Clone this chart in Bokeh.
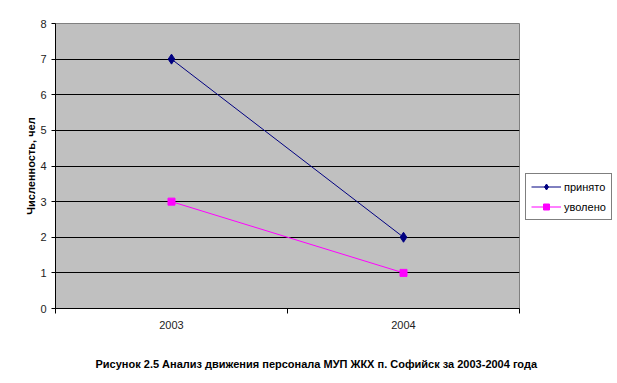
from bokeh.plotting import figure
from bokeh.models import (Range1d, FixedTicker, LinearAxis, Legend, LegendItem,
                          Title, ColumnDataSource)
from bokeh.embed import file_html
from bokeh.resources import INLINE

categories = ["2003", "2004"]
prinyato = [7, 2]
uvoleno = [3, 1]
y_ticks = [0, 1, 2, 3, 4, 5, 6, 7, 8]
y_label = "Численность, чел"
caption = "Рисунок 2.5 Анализ движения персонала МУП ЖКХ п. Софийск за 2003-2004 года"

xs = list(range(1, len(categories) + 1))
n = len(categories)

p = figure(frame_width=464, frame_height=285, output_backend="svg",
           toolbar_location=None,
           x_range=Range1d(0.5, n + 0.5), y_range=Range1d(0, 8),
           min_border_left=55, min_border_right=90, min_border_top=23,
           min_border_bottom=67)
p.background_fill_color = "#C0C0C0"
p.border_fill_color = "white"
p.outline_line_color = "#808080"
p.outline_line_width = 1

# y axis
p.yaxis.ticker = FixedTicker(ticks=y_ticks)
p.yaxis.axis_line_color = "black"
p.yaxis.major_tick_line_color = "black"
p.yaxis.major_tick_out = 4
p.yaxis.major_tick_in = 0
p.yaxis.minor_tick_line_color = None
p.yaxis.major_label_standoff = 5
p.yaxis.major_label_text_font = "Liberation Sans"
p.yaxis.major_label_text_font_size = "11px"
p.yaxis.major_label_text_color = "#222222"
p.yaxis.axis_label = y_label
p.yaxis.axis_label_text_font = "Liberation Sans"
p.yaxis.axis_label_text_font_size = "11px"
p.yaxis.axis_label_text_font_style = "bold"
p.yaxis.axis_label_text_color = "black"
p.yaxis.axis_label_standoff = 0

p.ygrid.ticker = FixedTicker(ticks=y_ticks)
p.ygrid.grid_line_color = "black"
p.ygrid.grid_line_width = 1
p.xgrid.grid_line_color = None

# x axis: ticks between categories
bounds = [i + 0.5 for i in range(0, n + 1)]
p.xaxis.ticker = FixedTicker(ticks=bounds)
p.xaxis.major_label_overrides = {b: "" for b in bounds}
p.xaxis.major_label_text_font_size = "0px"
p.xaxis.major_label_standoff = 0
p.xaxis.axis_line_color = "black"
p.xaxis.major_tick_line_color = "black"
p.xaxis.major_tick_out = 5
p.xaxis.major_tick_in = 0
p.xaxis.minor_tick_line_color = None

lab_axis = LinearAxis(ticker=FixedTicker(ticks=xs),
                      major_label_overrides={x: c for x, c in zip(xs, categories)},
                      axis_line_color=None, major_tick_line_color=None,
                      minor_tick_line_color=None, major_label_standoff=1,
                      major_label_text_font="Liberation Sans",
                      major_label_text_font_size="11px",
                      major_label_text_color="#222222")
p.add_layout(lab_axis, "below")

title = Title(text=caption, align="left", offset=40, standoff=48,
              text_font="Liberation Sans", text_font_size="11px",
              text_font_style="bold", text_color="black")
p.add_layout(title, "below")

src = ColumnDataSource(dict(x=xs, a=prinyato, b=uvoleno))
l1 = p.line("x", "a", source=src, line_color="#000080", line_width=1)
m1 = p.scatter("x", "a", source=src, marker="diamond", size=10,
               fill_color="#000080", line_color="#000080")
l2 = p.line("x", "b", source=src, line_color="#FF00FF", line_width=1)
m2 = p.scatter("x", "b", source=src, marker="square", size=7,
               fill_color="#FF00FF", line_color="#FF00FF")

legend = Legend(items=[LegendItem(label="принято", renderers=[l1, m1]),
                       LegendItem(label="уволено", renderers=[l2, m2])],
                location=(6, 88), border_line_color="black",
                border_line_width=1, background_fill_color="white",
                background_fill_alpha=1, label_text_font="Liberation Sans",
                label_text_font_size="11px", label_text_color="black",
                glyph_width=30, glyph_height=15,
                label_standoff=3, spacing=5, padding=5, margin=0,
                label_height=15)
p.add_layout(legend, "right")

open("out.html", "w").write(file_html(p, INLINE))
